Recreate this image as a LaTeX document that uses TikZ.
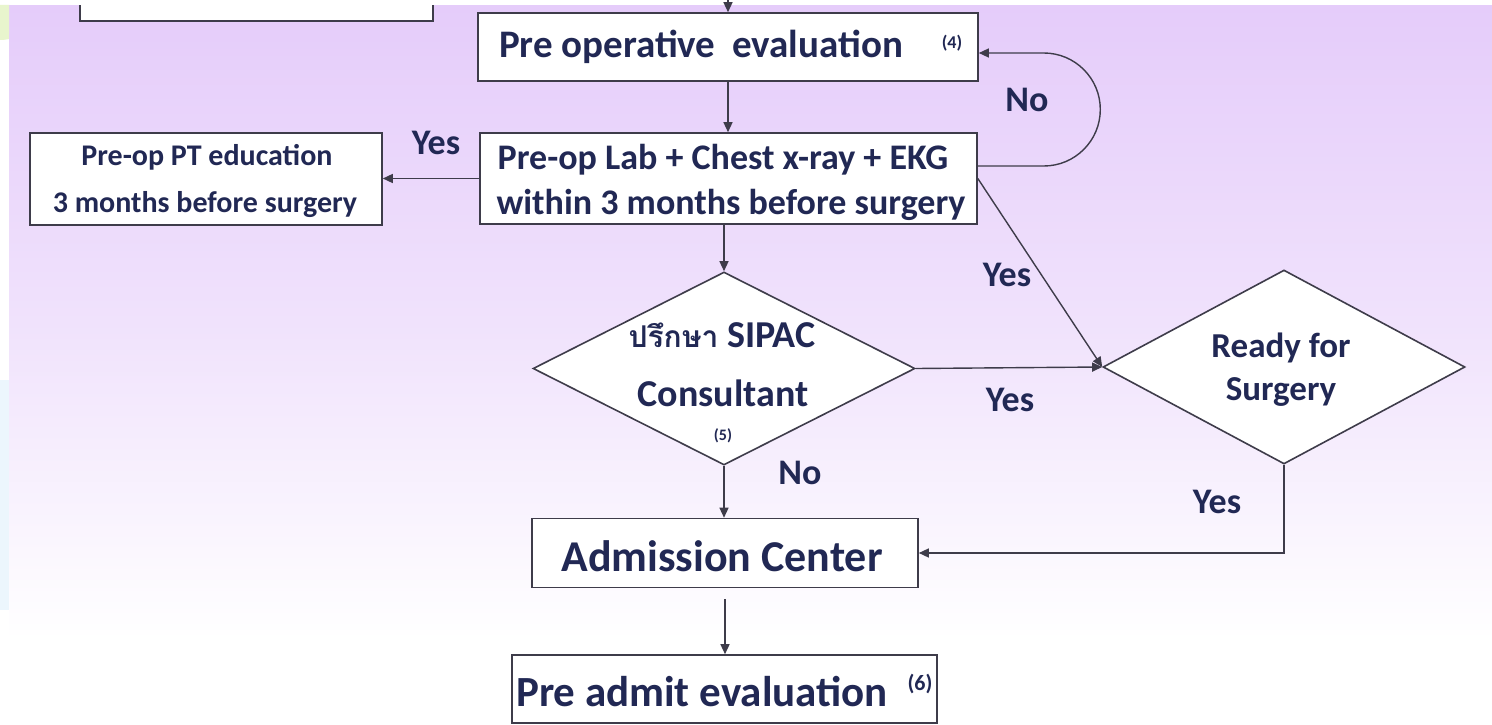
\documentclass[tikz,border=0pt]{standalone}
\usepackage{fontspec}
\setmainfont{Carlito}
\newfontfamily\thaifont[Script=Thai]{Loma}
\usetikzlibrary{shapes.geometric,arrows.meta}
\definecolor{lav}{RGB}{229,204,250}
\definecolor{lavmid}{RGB}{240,226,252}
\definecolor{txt}{RGB}{33,40,84}
\definecolor{ln}{RGB}{62,60,74}
\definecolor{grn}{RGB}{232,245,205}
\definecolor{lblue}{RGB}{236,246,253}
\newcommand{\fs}[1]{\fontsize{#1}{#1}\selectfont}
\begin{document}
\begin{tikzpicture}[x=1pt,y=-1pt,
  box/.style={draw=ln,line width=1.6pt,fill=white,inner sep=0pt},
  dia/.style={shape=diamond,draw=ln,line width=1.6pt,fill=white,inner sep=0pt},
  tx/.style={text=txt,font=\bfseries,inner sep=0pt,anchor=center},
  lbl/.style={text=txt,font=\bfseries\fs{36},inner sep=0pt},
  arr/.style={draw=ln,line width=1.4pt,-{Triangle[length=10pt,width=9pt]}},
  con/.style={draw=ln,line width=1.4pt}]
% background
\useasboundingbox (0,0) rectangle (1492,725);
\fill[white] (0,0) rectangle (1492,725);
\fill[grn] (0,0) circle[radius=40];
\fill[lblue] (0,380) rectangle (9,610);
\shade[top color=lav,bottom color=white,middle color=lavmid] (9,5) rectangle (1492,640);
% boxes
\node[box,minimum width=353pt,minimum height=60pt] (top) at (256.5,-9) {};
\node[box,minimum width=500pt,minimum height=68pt] (pre) at (728,47) {};
\node[box,minimum width=497pt,minimum height=91pt] (lab) at (728.5,178.5) {};
\node[box,minimum width=352pt,minimum height=92pt] (pt) at (206,179) {};
\node[dia,minimum width=382pt,minimum height=193pt] (sipac) at (724,368.5) {};
\node[dia,minimum width=362pt,minimum height=194pt] (ready) at (1284,367) {};
\node[box,minimum width=386pt,minimum height=69pt] (adm) at (725,553) {};
\node[box,minimum width=425pt,minimum height=68pt] (padm) at (724.5,689) {};
% white strip covering the top edge
\fill[white] (0,0) rectangle (1492,5);
\fill[grn] (0,5) -- (9,5) -- (9,34) arc[start angle=77,end angle=90,radius=40] -- cycle;
% texts
\node[tx,font=\bfseries\fs{39}] (tpre) at (701,47) {Pre operative\hspace{0.2em} evaluation};
\node[tx,font=\bfseries\fs{18}] (t4) at (952,43) {(4)};
\node[tx,font=\bfseries\fs{36}] (tlab1) at (723,160) {Pre-op Lab + Chest x-ray + EKG};
\node[tx,font=\bfseries\fs{36}] (tlab2) at (731,205) {within 3 months before surgery};
\node[tx,font=\bfseries\fs{30}] (tpt1) at (207,157) {Pre-op PT education};
\node[tx,font=\bfseries\fs{30}] (tpt2) at (205,205) {3 months before surgery};
\node[tx,font=\bfseries\fs{38}] (ts1) at (722,335) {{\thaifont\fs{30}ปรึกษา} SIPAC};
\node[tx,font=\bfseries\fs{38}] (ts2) at (723,393) {Consultant};
\node[tx,font=\bfseries\fs{16}] (ts3) at (723,436) {(5)};
\node[tx,font=\bfseries\fs{35}] (tr1) at (1281,348) {Ready for};
\node[tx,font=\bfseries\fs{35}] (tr2) at (1281,392) {Surgery};
\node[tx,font=\bfseries\fs{44}] (tadm) at (722,556) {Admission Center};
\node[tx,font=\bfseries\fs{43}] (tpadm) at (702,692) {Pre admit evaluation};
\node[tx,font=\bfseries\fs{22}] (t6) at (920,684) {(6)};
% labels
\node[lbl] (yes1) at (436,143) {Yes};
\node[lbl] (no1) at (1027,100) {No};
\node[lbl] (yes2) at (1007,275) {Yes};
\node[lbl] (yes3) at (1010,400) {Yes};
\node[lbl] (no2) at (800,473) {No};
\node[lbl] (yes4) at (1217,502) {Yes};
% connectors
\coordinate (in) at (728,-20);
\draw[arr] (in) -- (in |- pre.north);
\draw[arr] (pre.south) -- (pre.south |- lab.north);
\draw[arr] (lab.west) -- (pt.east |- lab.west);
\draw[arr] (lab.south -| sipac.north) -- (sipac.north);
\draw[arr] ([yshift=12.5pt]lab.east) -- ++(66,0) arc[start angle=90,end angle=-90,radius=56.5] -- ([yshift=-6pt]pre.east);
\draw[arr] (lab.east) -- (ready.west);
\draw[arr] (sipac.east) -- (ready.west);
\draw[arr] (sipac.south) -- (sipac.south |- adm.north);
\draw[arr] (ready.south) -- (ready.south |- adm.east) -- (adm.east);
\draw[arr] ([yshift=-11pt]adm.south) -- (adm.south |- padm.north);
\end{tikzpicture}
\end{document}
